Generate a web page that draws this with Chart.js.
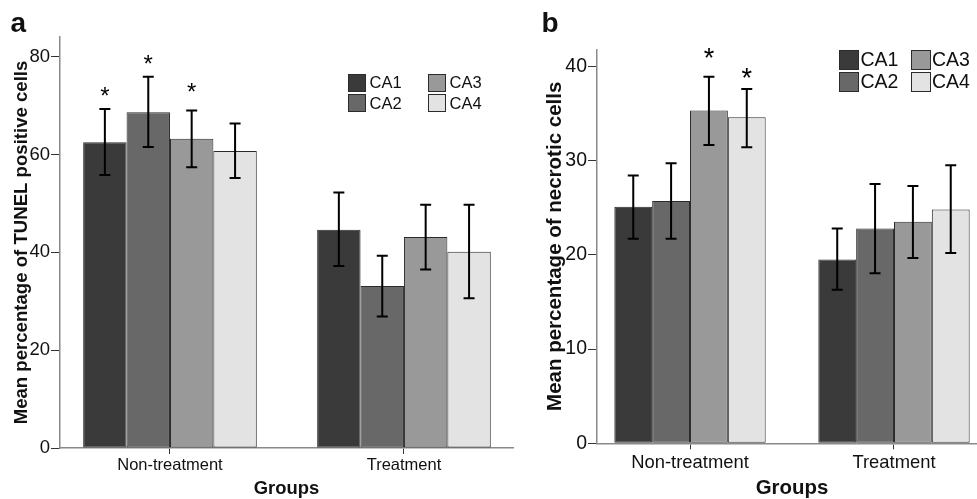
<!DOCTYPE html>
<html>
<head>
<meta charset="utf-8">
<script src="https://cdn.jsdelivr.net/npm/chart.js@4/dist/chart.umd.min.js"></script>
<style>
  html, body { margin:0; padding:0; width:977px; height:499px; overflow:hidden; background:#fff; }
  body { position:relative; font-family:"Liberation Sans", Arial, sans-serif; color:#111; }
  canvas { position:absolute; top:0; }
  .plabel { position:absolute; font-weight:bold; font-size:28px; line-height:28px; }
  .legend { position:absolute; display:grid; grid-auto-flow:column; }
  .item { display:flex; align-items:center; white-space:nowrap; }
  .box { box-sizing:border-box; border:1px solid #2b2b2b; }
</style>
</head>
<body>
<canvas id="ca" width="520" height="499" style="left:0px"></canvas>
<canvas id="cb" width="460" height="499" style="left:536px"></canvas>
<div class="plabel" style="left:10.5px; top:9px;">a</div>
<div class="plabel" style="left:541.5px; top:9px;">b</div>
<div class="legend" id="lega"></div>
<div class="legend" id="legb"></div>
<script>
// ---- categories and series ----
const groups = ['Non-treatment', 'Treatment'];
const series = ['CA1', 'CA2', 'CA3', 'CA4'];
const seriesColors = ['#3a3a3a', '#686868', '#999999', '#e3e3e3'];

// ---- Panel a: Mean percentage of TUNEL positive cells ----
const tunelCA1 = [62.5, 44.6];
const tunelCA2 = [68.6, 33.1];
const tunelCA3 = [63.2, 43.1];
const tunelCA4 = [60.7, 40.1];
const tunelHiCA1 = [69.3, 52.2];
const tunelHiCA2 = [75.9, 39.3];
const tunelHiCA3 = [69.0, 49.7];
const tunelHiCA4 = [66.3, 49.7];
const tunelLoCA1 = [55.8, 37.2];
const tunelLoCA2 = [61.5, 26.9];
const tunelLoCA3 = [57.4, 36.5];
const tunelLoCA4 = [55.2, 30.6];
// asterisk positions (value units), null = none
const tunelStarCA1 = [73.2, null];
const tunelStarCA2 = [79.7, null];
const tunelStarCA3 = [74.0, null];
const tunelStarCA4 = [null, null];
const tunelTicks = [0, 20, 40, 60, 80];

// ---- Panel b: Mean percentage of necrotic cells ----
const necCA1 = [25.1, 19.5];
const necCA2 = [25.7, 22.8];
const necCA3 = [35.3, 23.5];
const necCA4 = [34.6, 24.8];
const necHiCA1 = [28.4, 22.8];
const necHiCA2 = [29.7, 27.5];
const necHiCA3 = [38.9, 27.3];
const necHiCA4 = [37.6, 29.5];
const necLoCA1 = [21.7, 16.3];
const necLoCA2 = [21.7, 18.05];
const necLoCA3 = [31.65, 19.65];
const necLoCA4 = [31.4, 20.2];
const necStarCA1 = [null, null];
const necStarCA2 = [null, null];
const necStarCA3 = [41.6, null];
const necStarCA4 = [39.5, null];
const necTicks = [0, 10, 20, 30, 40];

Chart.defaults.font.family = '"Liberation Sans", Arial, sans-serif';
Chart.defaults.color = '#111';

const errorBarPlugin = {
  id: 'errorBars',
  afterDatasetsDraw(chart) {
    const ctx = chart.ctx;
    const ys = chart.scales.y;
    const cfg = chart.options.plugins.errorBars;
    ctx.save();
    chart.data.datasets.forEach((ds, i) => {
      const meta = chart.getDatasetMeta(i);
      meta.data.forEach((bar, j) => {
        const x = bar.x;
        const yh = ys.getPixelForValue(ds.errHi[j]);
        const yl = ys.getPixelForValue(ds.errLo[j]);
        ctx.strokeStyle = '#000';
        ctx.lineWidth = 2;
        ctx.beginPath();
        ctx.moveTo(x, yh); ctx.lineTo(x, yl);
        ctx.moveTo(x - cfg.cap, yh); ctx.lineTo(x + cfg.cap, yh);
        ctx.moveTo(x - cfg.cap, yl); ctx.lineTo(x + cfg.cap, yl);
        ctx.stroke();
        const s = ds.star[j];
        if (s !== null && s !== undefined) {
          ctx.fillStyle = '#000';
          ctx.font = cfg.starSize + 'px "Liberation Sans", Arial, sans-serif';
          ctx.textAlign = 'center';
          ctx.textBaseline = 'alphabetic';
          ctx.fillText('*', x, ys.getPixelForValue(s) + 0.58 * cfg.starSize);
        }
      });
    });
    ctx.restore();
  }
};

function makeDatasets(vals, his, los, stars) {
  return series.map((name, i) => ({
    label: name,
    data: vals[i].map((v, j) => ({ x: j + 1, y: v })),
    errHi: his[i], errLo: los[i], star: stars[i],
    backgroundColor: seriesColors[i],
    borderColor: '#2b2b2b',
    borderWidth: 1,
    borderSkipped: false,
    barPercentage: 1.0,
    categoryPercentage: 0.742
  }));
}

function makeChart(id, p) {
  return new Chart(document.getElementById(id), {
    type: 'bar',
    data: { datasets: makeDatasets(p.vals, p.his, p.los, p.stars) },
    plugins: [errorBarPlugin],
    options: {
      responsive: false,
      animation: false,
      devicePixelRatio: 1,
      layout: { padding: { top: p.top, right: p.right, left: 0, bottom: 0 } },
      plugins: {
        legend: { display: false },
        tooltip: { enabled: false },
        errorBars: { cap: 5.5, starSize: p.starSize }
      },
      scales: {
        x: {
          type: 'linear',
          offset: false,
          min: p.xmin, max: p.xmax,
          afterBuildTicks: (s) => { s.ticks = groups.map((g, i) => ({ value: i + 1 })); },
          afterFit: (s) => { s.height = p.xHeight; },
          ticks: {
            autoSkip: false,
            maxRotation: 0,
            padding: p.xPad,
            color: '#111',
            font: { size: p.xFont },
            callback: (v) => groups[Math.round(v) - 1]
          },
          grid: { display: true, offset: false, drawOnChartArea: false, drawTicks: true, tickLength: 6, color: '#333', lineWidth: 1 },
          border: { display: true, color: '#8a8a8a', width: 1.5 },
          title: { display: true, text: 'Groups', color: '#111', font: { size: p.xtFont, weight: 'bold', lineHeight: 1 }, padding: { top: 0, bottom: p.xtPad } }
        },
        y: {
          min: 0, max: p.ymax,
          afterBuildTicks: (s) => { s.ticks = p.ticks.map(v => ({ value: v })); },
          afterFit: (s) => { s.width = p.yWidth; },
          ticks: { padding: 1, color: '#111', font: { size: p.yFont } },
          grid: { display: true, drawOnChartArea: false, drawTicks: true, tickLength: 9, color: '#333', lineWidth: 1 },
          border: { display: true, color: '#8a8a8a', width: 1.5 },
          title: { display: true, text: p.ytitle, color: '#111', font: { size: p.ytFont, weight: 'bold', lineHeight: 1.2 }, padding: { top: p.ytPad, bottom: 0 } }
        }
      }
    }
  });
}

makeChart('ca', {
  vals: [tunelCA1, tunelCA2, tunelCA3, tunelCA4],
  his: [tunelHiCA1, tunelHiCA2, tunelHiCA3, tunelHiCA4],
  los: [tunelLoCA1, tunelLoCA2, tunelLoCA3, tunelLoCA4],
  stars: [tunelStarCA1, tunelStarCA2, tunelStarCA3, tunelStarCA4],
  ticks: tunelTicks,
  top: 37, right: 7, xmin: 0.53, xmax: 2.466, ymax: 84,
  xHeight: 51, xPad: 2, xFont: 16.5, xtFont: 18.4, xtPad: 0.6,
  yWidth: 60, yFont: 18.5, ytFont: 18.6, ytPad: 10.5,
  ytitle: 'Mean percentage of TUNEL positive cells', starSize: 24
});

makeChart('cb', {
  vals: [necCA1, necCA2, necCA3, necCA4],
  his: [necHiCA1, necHiCA2, necHiCA3, necHiCA4],
  los: [necLoCA1, necLoCA2, necLoCA3, necLoCA4],
  stars: [necStarCA1, necStarCA2, necStarCA3, necStarCA4],
  ticks: necTicks,
  top: 49.3, right: 9, xmin: 0.544, xmax: 2.456, ymax: 41.8,
  xHeight: 55.7, xPad: 2.7, xFont: 18.4, xtFont: 20.4, xtPad: 0,
  yWidth: 61, yFont: 19.5, ytFont: 20.5, ytPad: 7.3,
  ytitle: 'Mean percentage of necrotic cells', starSize: 27
});

function buildLegend(id, o) {
  const el = document.getElementById(id);
  el.style.left = o.left + 'px';
  el.style.top = o.top + 'px';
  el.style.gridTemplateColumns = 'repeat(2, ' + o.colW + 'px)';
  el.style.gridTemplateRows = 'repeat(2, ' + o.rowH + 'px)';
  series.forEach((name, i) => {
    const it = document.createElement('div');
    it.className = 'item';
    const b = document.createElement('span');
    b.className = 'box';
    b.style.width = o.box + 'px';
    b.style.height = o.box + 'px';
    b.style.background = seriesColors[i];
    b.style.marginRight = o.gap + 'px';
    const t = document.createElement('span');
    t.textContent = name;
    t.style.fontSize = o.font + 'px';
    it.appendChild(b); it.appendChild(t);
    el.appendChild(it);
  });
}
buildLegend('lega', { left: 348, top: 72.5, colW: 80, rowH: 20.5, box: 18, gap: 3.5, font: 16.5 });
buildLegend('legb', { left: 839, top: 48.5, colW: 71.5, rowH: 22.3, box: 20, gap: 1.5, font: 19.5 });
</script>
</body>
</html>
